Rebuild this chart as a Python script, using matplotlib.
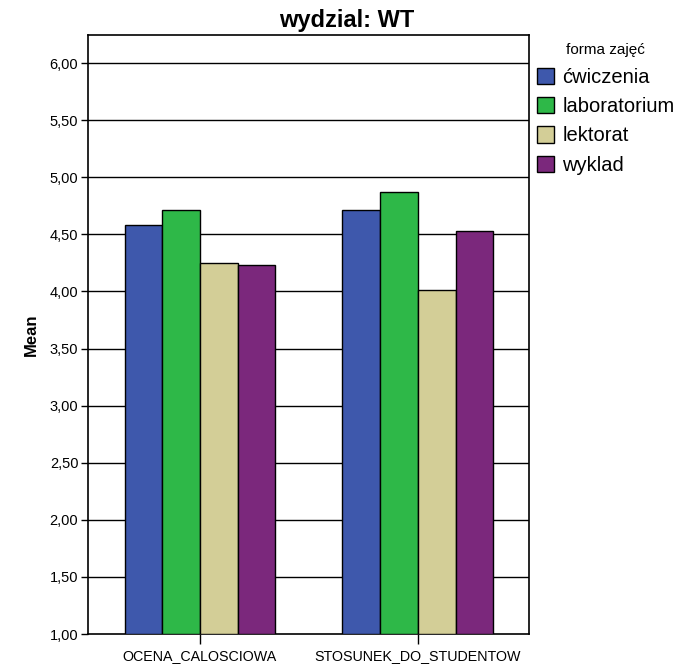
import matplotlib
matplotlib.use("Agg")
import matplotlib.pyplot as plt
import numpy as np

plt.rcParams['font.family'] = ['Liberation Sans', 'DejaVu Sans']

categories = ["OCENA_CALOSCIOWA", "STOSUNEK_DO_STUDENTOW"]
series = ["ćwiczenia", "laboratorium", "lektorat", "wyklad"]
cwiczenia = [4.585, 4.713]
laboratorium = [4.713, 4.875]
lektorat = [4.252, 4.009]
wyklad = [4.228, 4.529]
yticks = [1.0, 1.5, 2.0, 2.5, 3.0, 3.5, 4.0, 4.5, 5.0, 5.5, 6.0]
colors = ["#3E58AC", "#2EB848", "#D3CE97", "#7B287C"]

fig = plt.figure(figsize=(6.93, 6.67), dpi=100)
ax = fig.add_axes([88/693, 1-634/667, (529-88)/693, (634-35)/667])

x = np.arange(len(categories))
w = 0.173
vals = [cwiczenia, laboratorium, lektorat, wyklad]
base = 1.0
for i, (name, v, c) in enumerate(zip(series, vals, colors)):
    off = (i - 1.5) * w
    ax.bar(x + off, np.array(v) - base, bottom=base, width=w, color=c,
           edgecolor='black', linewidth=1.0, label=name, zorder=3)

ax.set_xlim(-0.514, 1.51)
ax.set_ylim(1.0, 6.246)
ax.set_yticks(yticks)
ax.set_yticklabels([f"{t:.2f}".replace('.', ',') for t in yticks], fontsize=10.5)
for t in yticks[1:]:
    ax.axhline(t, color='black', linewidth=1.0, zorder=1)
ax.set_xticks(x)
ax.set_xticklabels(categories, fontsize=10.3)
ax.tick_params(axis='x', length=7.5, width=1, pad=3)
ax.tick_params(axis='y', length=5, width=1, pad=2)
for s in ax.spines.values():
    s.set_linewidth(1.2)
ax.set_ylabel("Mean", fontsize=12, fontweight='bold', labelpad=8)

fig.text(0.5, 1-20/667, "wydzial: WT", ha='center', va='center',
         fontsize=17, fontweight='bold')

leg = ax.legend(loc='upper left', bbox_to_anchor=(1.0, 1.0), frameon=False,
                title="forma zajęć", title_fontsize=11, fontsize=14.5,
                handlelength=0.85, handleheight=0.85, handletextpad=0.4,
                labelspacing=0.52, borderaxespad=0.0)
for h in leg.legend_handles:
    h.set_edgecolor('black')
    h.set_linewidth(1.0)

fig.savefig("out.png", dpi=100)
